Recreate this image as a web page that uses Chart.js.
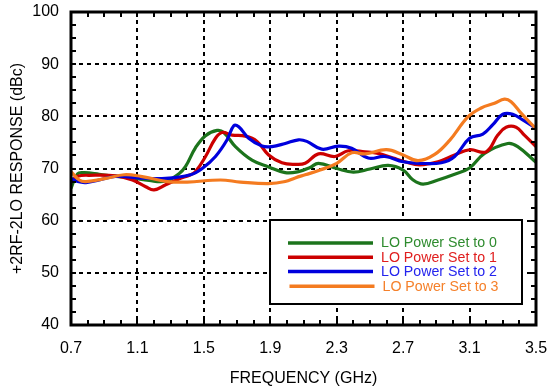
<!DOCTYPE html>
<html>
<head>
<meta charset="utf-8">
<script src="https://cdn.jsdelivr.net/npm/chart.js@4.4.0/dist/chart.umd.min.js"></script>
<style>
  html, body { margin: 0; padding: 0; background: #fff; }
  #wrap { width: 548px; height: 392px; }
</style>
</head>
<body>
<div id="wrap"><canvas id="chart" width="548" height="392"></canvas></div>
<script>
/* ── Data ── */
const xTicks = [0.7, 1.1, 1.5, 1.9, 2.3, 2.7, 3.1, 3.5];
const yTicks = [40, 50, 60, 70, 80, 90, 100];

const set0Freq = [0.70, 0.74, 0.78, 0.87, 0.97, 1.07, 1.17, 1.27, 1.35, 1.39, 1.45, 1.51, 1.58, 1.62, 1.69, 1.79, 1.89, 1.99, 2.07, 2.14, 2.19, 2.30, 2.40, 2.50, 2.61, 2.70, 2.76, 2.82, 2.91, 3.01, 3.10, 3.19, 3.33, 3.39, 3.50];
const set0Val  = [66.2, 69.0, 69.2, 68.9, 68.5, 68.2, 67.7, 67.6, 69.0, 70.4, 74.0, 76.3, 77.3, 76.9, 74.2, 71.6, 70.3, 69.2, 69.4, 70.2, 71.0, 70.0, 69.3, 69.9, 70.6, 69.7, 67.8, 67.0, 67.8, 68.9, 70.1, 72.9, 74.8, 74.2, 71.2];

const set1Freq = [0.70, 0.74, 0.81, 0.97, 1.07, 1.15, 1.20, 1.27, 1.35, 1.42, 1.45, 1.51, 1.57, 1.61, 1.67, 1.75, 1.82, 1.89, 1.97, 2.05, 2.11, 2.19, 2.29, 2.37, 2.47, 2.55, 2.64, 2.71, 2.80, 2.91, 3.01, 3.10, 3.20, 3.27, 3.32, 3.38, 3.43, 3.50];
const set1Val  = [67.5, 68.5, 68.7, 68.6, 67.8, 66.5, 65.9, 66.9, 68.0, 68.8, 69.4, 72.3, 75.8, 76.9, 76.4, 76.2, 75.2, 72.6, 71.1, 70.8, 71.0, 72.8, 72.3, 73.4, 73.2, 72.9, 72.0, 71.3, 70.7, 71.3, 72.6, 73.6, 73.2, 76.4, 77.9, 77.9, 76.4, 74.2];

const set2Freq = [0.70, 0.74, 0.79, 0.87, 0.97, 1.10, 1.27, 1.42, 1.49, 1.57, 1.64, 1.68, 1.71, 1.77, 1.85, 1.91, 1.99, 2.07, 2.12, 2.21, 2.31, 2.39, 2.49, 2.59, 2.70, 2.80, 2.93, 3.01, 3.10, 3.18, 3.24, 3.30, 3.36, 3.42, 3.50];
const set2Val  = [68.1, 67.5, 67.3, 67.8, 68.5, 68.2, 68.1, 68.8, 70.0, 72.3, 75.5, 78.2, 78.0, 75.8, 74.3, 74.2, 74.8, 75.5, 75.2, 73.7, 74.3, 73.9, 72.0, 72.3, 71.3, 71.0, 71.1, 72.3, 75.8, 76.6, 78.4, 80.4, 80.4, 79.3, 77.7];

const set3Freq = [0.70, 0.75, 0.79, 0.91, 1.02, 1.12, 1.28, 1.40, 1.60, 1.72, 1.89, 1.99, 2.05, 2.11, 2.20, 2.30, 2.39, 2.47, 2.60, 2.70, 2.79, 2.89, 2.98, 3.09, 3.17, 3.25, 3.31, 3.35, 3.41, 3.50];
const set3Val  = [69.4, 67.8, 67.5, 68.1, 68.8, 68.5, 67.5, 67.4, 67.8, 67.4, 67.1, 67.5, 68.2, 68.8, 69.7, 71.0, 73.0, 72.8, 73.6, 72.6, 71.5, 72.7, 75.4, 79.9, 81.6, 82.5, 83.3, 82.8, 80.6, 77.6];

const seriesLabels = ['LO Power Set to 0', 'LO Power Set to 1', 'LO Power Set to 2', 'LO Power Set to 3'];
const lineColors = ['#1C741C', '#CC0000', '#0000DD', '#F47B20'];
const textColors = ['#2E8B2E', '#E01E1E', '#2424EE', '#F5802A'];

const FONT = "'Liberation Sans', Arial, sans-serif";

function pts(fx, fy) { return fx.map((x, i) => ({ x, y: fy[i] })); }

/* ── Frame + minor ticks ── */
const framePlugin = {
  id: 'frame',
  afterDatasetsDraw(chart) {
    const { ctx, chartArea: a, scales: { x, y } } = chart;
    ctx.save();
    ctx.strokeStyle = '#000';
    ctx.lineWidth = 2;
    ctx.beginPath();
    for (let v = 0.8; v < 3.45; v += 0.1) {
      const px = Math.round(x.getPixelForValue(v));
      ctx.moveTo(px, a.bottom); ctx.lineTo(px, a.bottom - 5);
      ctx.moveTo(px, a.top); ctx.lineTo(px, a.top + 5);
    }
    for (let v = 42.5; v < 100; v += 2.5) {
      const py = Math.round(y.getPixelForValue(v));
      ctx.moveTo(a.left, py); ctx.lineTo(a.left + 5, py);
      ctx.moveTo(a.right, py); ctx.lineTo(a.right - 5, py);
    }
    ctx.stroke();
    ctx.lineWidth = 3;
    ctx.strokeRect(a.left, a.top, a.right - a.left, a.bottom - a.top);
    ctx.restore();
  }
};

/* ── Boxed legend inside the plot ── */
const boxLegend = {
  id: 'boxLegend',
  afterDraw(chart, args, opts) {
    const { ctx } = chart;
    ctx.save();
    ctx.fillStyle = '#fff';
    ctx.fillRect(opts.x, opts.y, opts.w, opts.h);
    ctx.strokeStyle = '#000';
    ctx.lineWidth = 2;
    ctx.strokeRect(opts.x, opts.y, opts.w, opts.h);
    ctx.font = '14.2px ' + FONT;
    ctx.textBaseline = 'middle';
    chart.data.datasets.forEach((ds, i) => {
      const ly = opts.y + 23 + i * 14.2 + (i === 3 ? 0.6 : 0);
      const dx = i === 3 ? 1.5 : 0;
      ctx.strokeStyle = ds.borderColor;
      ctx.lineWidth = 3.5;
      ctx.beginPath();
      ctx.moveTo(opts.x + 18 + dx, ly);
      ctx.lineTo(opts.x + 103 + dx, ly);
      ctx.stroke();
      ctx.fillStyle = textColors[i];
      ctx.fillText(ds.label, opts.x + 111 + dx, ly + 0.5);
    });
    ctx.restore();
  }
};

const gridColor = (lo, hi) => c => (c.tick && (c.tick.value === lo || c.tick.value === hi)) ? 'rgba(0,0,0,0)' : '#000';

new Chart(document.getElementById('chart'), {
  type: 'line',
  data: {
    datasets: [set0Freq, set1Freq, set2Freq, set3Freq].map((fx, i) => ({
      label: seriesLabels[i],
      data: pts(fx, [set0Val, set1Val, set2Val, set3Val][i]),
      borderColor: lineColors[i],
      borderWidth: 3.2,
      pointRadius: 0,
      tension: 0.4,
      fill: false,
      order: 3 - i
    }))
  },
  options: {
    responsive: false,
    animation: false,
    devicePixelRatio: 1,
    layout: { padding: { top: 12, right: 12, left: 0, bottom: 0 } },
    plugins: {
      legend: { display: false },
      tooltip: { enabled: false },
      boxLegend: { x: 270, y: 220, w: 252, h: 84 }
    },
    scales: {
      x: {
        type: 'linear', min: 0.7, max: 3.5,
        afterBuildTicks: s => { s.ticks = xTicks.map(v => ({ value: v })); },
        afterFit: s => { s.height = 67; s.paddingLeft = 0; s.paddingRight = 0; },
        ticks: { color: '#000', font: { family: FONT, size: 16 }, padding: 14, maxRotation: 0,
                 callback: v => v.toFixed(1) },
        grid: { color: gridColor(0.7, 3.5), lineWidth: 2, drawTicks: false },
        border: { display: false, dash: [4, 4] },
        title: { display: true, text: 'FREQUENCY (GHz)', color: '#000',
                 font: { family: FONT, size: 16 }, padding: { top: 0, bottom: 4 } }
      },
      y: {
        type: 'linear', min: 40, max: 100,
        afterBuildTicks: s => { s.ticks = yTicks.map(v => ({ value: v })); },
        afterFit: s => { s.width = 71; s.paddingTop = 0; s.paddingBottom = 0; },
        ticks: { color: '#000', font: { family: FONT, size: 16 }, padding: 12 },
        grid: { color: gridColor(40, 100), lineWidth: 2, drawTicks: false },
        border: { display: false, dash: [4, 4] },
        title: { display: true, text: '+2RF-2LO RESPONSE (dBc)', color: '#000',
                 font: { family: FONT, size: 16 }, padding: { top: 8, bottom: 0 } }
      }
    }
  },
  plugins: [framePlugin, boxLegend]
});
</script>
</body>
</html>
